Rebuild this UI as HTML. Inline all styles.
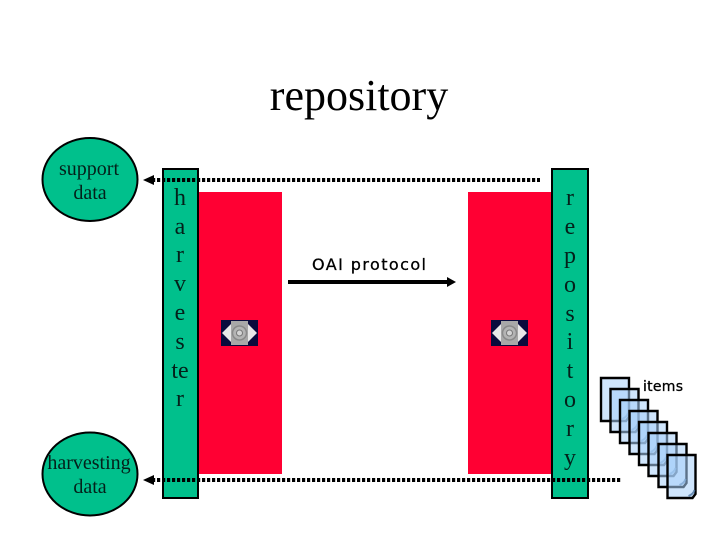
<!DOCTYPE html>
<html>
<head>
<meta charset="utf-8">
<style>
html,body{margin:0;padding:0;background:#fff}
svg{display:block}
.s{font-family:"Liberation Serif",serif;fill:#04201a}
</style>
</head>
<body>
<svg width="720" height="540" viewBox="0 0 720 540" xmlns="http://www.w3.org/2000/svg">
<defs>
<g id="eye">
  <rect x="0" y="0" width="37" height="26" fill="#0a0a3c"/>
  <polygon points="1,13 10,4 27,4 36,13 27,22 10,22" fill="#e8e8e8"/>
  <rect x="10" y="1" width="17" height="24" fill="#a8a8a8"/>
  <circle cx="18.500" cy="13" r="7" fill="#b4b4b4" stroke="#8a8a8a" stroke-width="1.500"/>
  <circle cx="18.500" cy="13" r="3" fill="#d4d4d4" stroke="#777" stroke-width="1"/>
</g>
<g id="page">
  <path d="M1,1 H29 V40 L26,44 H1 Z" fill="#a8d0fa" fill-opacity="0.55" stroke="#000" stroke-width="2.400"/>
  <path d="M28,36 Q27,40 22,42" fill="none" stroke="#4f75a0" stroke-width="2" stroke-opacity="0.8"/>
</g>
</defs>

<rect width="720" height="540" fill="#fff"/>

<text x="359" y="110" text-anchor="middle" font-family="'Liberation Serif',serif" font-size="44" fill="#000">repository</text>

<rect x="199" y="192" width="83" height="282" fill="#ff0033"/>
<rect x="468" y="192" width="83" height="282" fill="#ff0033"/>

<rect x="163" y="169" width="35" height="329" fill="#00c08c" stroke="#000" stroke-width="2"/>
<rect x="552" y="169" width="36" height="329" fill="#00c08c" stroke="#000" stroke-width="2"/>

<ellipse cx="90" cy="179.500" rx="47.500" ry="41.500" fill="#00c08c" stroke="#000" stroke-width="2"/>
<ellipse cx="90" cy="474" rx="47.500" ry="41.500" fill="#00c08c" stroke="#000" stroke-width="2"/>

<g class="s" font-size="20" text-anchor="middle">
  <text x="89" y="175">support</text>
  <text x="90" y="199">data</text>
  <text x="89" y="469">harvesting</text>
  <text x="90" y="493">data</text>
</g>

<g class="s" font-size="24" text-anchor="middle">
  <text x="180" y="205">h</text>
  <text x="180" y="234">a</text>
  <text x="180" y="262">r</text>
  <text x="180" y="291">v</text>
  <text x="180" y="320">e</text>
  <text x="180" y="349">s</text>
  <text x="180" y="378">te</text>
  <text x="180" y="406">r</text>
  <text x="570" y="205">r</text>
  <text x="570" y="234">e</text>
  <text x="570" y="263">p</text>
  <text x="570" y="292">o</text>
  <text x="570" y="321">s</text>
  <text x="570" y="349">i</text>
  <text x="570" y="378">t</text>
  <text x="570" y="407">o</text>
  <text x="570" y="436">r</text>
  <text x="570" y="465">y</text>
</g>

<line x1="152" y1="180" x2="540" y2="180" stroke="#000" stroke-width="4" stroke-dasharray="3.200 1.800"/>
<polygon points="143,180 154,175 154,185" fill="#000"/>
<line x1="152" y1="480" x2="622" y2="480" stroke="#000" stroke-width="4" stroke-dasharray="3.200 1.800"/>
<polygon points="143,480 154,475 154,485" fill="#000"/>

<line x1="288" y1="282" x2="448" y2="282" stroke="#000" stroke-width="4"/>
<polygon points="456,282 447,277 447,287" fill="#000"/>
<text x="312" y="270" font-family="'DejaVu Sans',sans-serif" font-size="16" textLength="114" lengthAdjust="spacing" fill="#000" stroke="#000" stroke-width="0.300">OAI protocol</text>

<use href="#eye" x="221" y="320"/>
<use href="#eye" x="491" y="320"/>

<use href="#page" x="600" y="377"/>
<use href="#page" x="609.500" y="388"/>
<use href="#page" x="619" y="399"/>
<use href="#page" x="628.500" y="410"/>
<use href="#page" x="638" y="421"/>
<use href="#page" x="647.500" y="432"/>
<use href="#page" x="657.500" y="443"/>
<use href="#page" x="666.500" y="454"/>

<text x="643" y="391" font-family="'DejaVu Sans',sans-serif" font-size="14" textLength="40" lengthAdjust="spacing" fill="#000" stroke="#000" stroke-width="0.300">items</text>
</svg>
</body>
</html>
